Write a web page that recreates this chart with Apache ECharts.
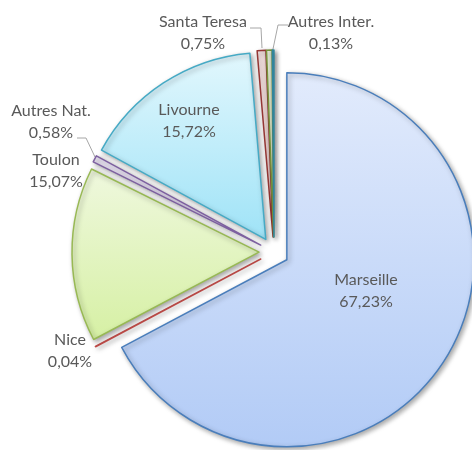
<!DOCTYPE html>
<html>
<head>
<meta charset="utf-8">
<script src="https://cdn.jsdelivr.net/npm/echarts@6/dist/echarts.min.js"></script>
<style>
  html, body { margin: 0; padding: 0; background: #fff; }
  #chart { width: 472px; height: 450px; }
</style>
</head>
<body>
<div id="chart"></div>
<script>
// parts (%), clockwise from 12 o'clock
const ports = ["Marseille", "Nice", "Toulon", "Autres Nat.", "Livourne", "Santa Teresa", "", "Autres Inter."];
const shares = [67.23, 0.04, 15.07, 0.58, 15.72, 0.75, 0.48, 0.13];

// border, gradient top, gradient bottom
const borders = ["#4a7ebb", "#be4b48", "#98b954", "#7d60a0", "#46aac5", "#943634", "#77933c", "#31859c"];
const fillTop = ["#e2ebfc", "#f4dedd", "#eff8de", "#ebe5f3", "#e2f7fd", "#f5e2e1", "#eef4e0", "#dbeef3"];
const fillBottom = ["#b2cbf6", "#eec4c3", "#d6f0a4", "#d9cdea", "#9fe3f7", "#eecfcd", "#d8e8b8", "#b6dde8"];

const insideLabels = ["Marseille", "Livourne"];
const explode = 15;

const chartDom = document.getElementById("chart");
const myChart = echarts.init(chartDom);

const fmt = (v) => v.toFixed(2).replace(".", ",") + "%";

const pieData = ports.map((name, i) => {
  const inside = insideLabels.includes(name);
  return {
    name: name,
    value: shares[i],
    selected: true,
    itemStyle: {
      color: new echarts.graphic.LinearGradient(0, 0, 0, 1, [
        { offset: 0, color: fillTop[i] },
        { offset: 1, color: fillBottom[i] },
      ]),
      borderColor: borders[i],
    },
    select: { itemStyle: { borderColor: borders[i] } },
    label: {
      show: name !== "",
      position: inside ? "inside" : "outside",
    },
    labelLine: {
      show: !inside && name !== "Toulon" && name !== "Nice",
    },
  };
});

// where Excel put the labels (centre of text block)
const labelSpots = {
  "Marseille": [366, 291],
  "Livourne": [189, 121],
  "Toulon": [56, 171],
  "Nice": [70, 351],
  "Autres Nat.": [51, 122],
  "Santa Teresa": [203, 33],
  "Autres Inter.": [331, 33],
};

// leader lines as Excel drew them
const leaderLines = {
  "Autres Nat.": [[77, 138], [86, 138], [95, 157]],
  "Santa Teresa": [[250, 28], [261, 28], [262, 48]],
  "Autres Inter.": [[273, 49], [278, 25], [288, 25]],
};

// the selected slices (and their labels) are pushed out along the mid angle
const total = shares.reduce((a, b) => a + b, 0);
function explodeShift(idx) {
  let before = 0;
  for (let k = 0; k < idx; k++) before += shares[k];
  const a = ((before + shares[idx] / 2) / total) * 2 * Math.PI;
  return [explode * Math.sin(a), -explode * Math.cos(a)];
}

myChart.setOption({
  animation: false,
  series: [
    {
      type: "pie",
      center: [274, 252],
      radius: 187,
      startAngle: 90,
      clockwise: true,
      selectedMode: "multiple",
      selectedOffset: explode,
      avoidLabelOverlap: false,
      emphasis: { disabled: true },
      itemStyle: {
        borderWidth: 1.5,
        shadowBlur: 5,
        shadowOffsetX: 2,
        shadowOffsetY: 2,
        shadowColor: "rgba(0,0,0,0.35)",
      },
      label: {
        color: "#595959",
        fontFamily: "Lato, 'Open Sans', sans-serif",
        fontSize: 16,
        lineHeight: 22,
        align: "center",
        formatter: (p) => p.name + "\n" + fmt(p.value),
      },
      labelLine: {
        length: 10,
        length2: 8,
        lineStyle: { color: "#a6a6a6", width: 1 },
      },
      labelLayout: (p) => {
        const name = ports[p.dataIndex];
        const spot = labelSpots[name];
        if (!spot) return {};
        const r = p.labelRect;
        const s = explodeShift(p.dataIndex);
        const inside = insideLabels.includes(name);
        // outside labels on the left half are right-aligned by the pie
        const anchorX = inside ? r.x + r.width / 2 : r.x + r.width;
        const out = {
          align: "center",
          dx: spot[0] - anchorX - s[0],
          dy: spot[1] - (r.y + r.height / 2) - s[1],
        };
        if (leaderLines[name]) {
          // the line lives in the moved slice's frame
          out.labelLinePoints = leaderLines[name].map((pt) => [pt[0] - s[0], pt[1] - s[1]]);
        }
        return out;
      },
      data: pieData,
    },
  ],
});
</script>
</body>
</html>
